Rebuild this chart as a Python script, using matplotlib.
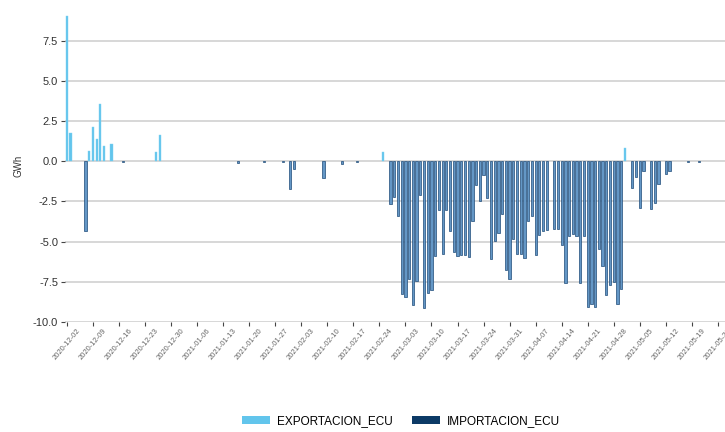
import matplotlib
matplotlib.use('Agg')
import matplotlib.pyplot as plt
from matplotlib.patches import Patch
import numpy as np
import pandas as pd

plt.rcParams['font.family'] = ['Liberation Sans', 'DejaVu Sans']

# datos diarios (GWh)
export_dates = ['2020-12-02', '2020-12-03', '2020-12-08', '2020-12-09', '2020-12-10',
                '2020-12-11', '2020-12-12', '2020-12-14', '2020-12-26', '2020-12-27',
                '2021-02-25', '2021-05-01']
export_gwh = [9.05, 1.73, 0.64, 2.14, 1.39, 3.53, 0.94, 1.08, 0.58, 1.64, 0.58, 0.85]

import_sparse_dates = ['2020-12-07', '2020-12-17', '2021-01-17', '2021-01-24', '2021-01-29',
                       '2021-01-31', '2021-02-01', '2021-02-09', '2021-02-14', '2021-02-18']
import_sparse_gwh = [-4.36, -0.03, -0.10, -0.05, -0.03, -1.70, -0.46, -1.04, -0.15, -0.03]

# tramo continuo desde 2021-02-27
import_run_start = '2021-02-27'
import_run_gwh = [-2.64, -2.22, -3.41, -8.24, -8.46, -7.32, -8.92, -7.48, -2.12, -9.14,
                  -8.21, -8.04, -5.92, -3.05, -5.80, -3.05, -4.36, -5.67, -5.88, -5.82,
                  -5.86, -5.96, -3.72, -1.46, -2.47, -0.83, -2.28, -6.07, -4.97, -4.47,
                  -3.26, -6.75, -7.32, -4.82, -5.80, -5.76, -6.01, -3.72, -3.43, -5.86,
                  -4.57, -4.36, -4.30, 0.0, -4.20, -4.20, -5.20, -7.55, -4.65, -4.55,
                  -4.68, -7.55, -4.68, -9.05, -8.85, -9.08, -5.45, -6.49, -8.30, -7.73,
                  -7.53, -8.88, -7.94, 0.0, 0.0, -1.64, -0.98, -2.91, -0.58, 0.0,
                  -3.00, -2.57, -1.45, 0.0, -0.82, -0.61, 0.0, 0.0, 0.0, 0.0,
                  -0.05, 0.0, 0.0, -0.03]

c_exp = '#62c5ec'
c_imp = '#0c3a66'

fig = plt.figure(figsize=(7.25, 4.32), dpi=100)
ax = fig.add_axes([65 / 725, 1 - 322 / 432, 660 / 725, 312 / 432])

exp_x = pd.to_datetime(export_dates)
imp_x = pd.to_datetime(import_sparse_dates)
run_x = pd.date_range(import_run_start, periods=len(import_run_gwh), freq='D')
run_y = np.array(import_run_gwh)
nz = run_y != 0

ax.bar(imp_x, import_sparse_gwh, width=0.6, color='#6497c6', edgecolor='#1e4b78', linewidth=0.5, zorder=3)
ax.bar(run_x[nz], run_y[nz], width=0.6, color='#6497c6', edgecolor='#1e4b78', linewidth=0.5, zorder=3)
ax.bar(exp_x, export_gwh, width=0.6, color=c_exp, edgecolor='#7fd3f2', linewidth=0.3, zorder=3)

start = pd.Timestamp('2020-12-02')
ax.set_xlim(start - pd.Timedelta(hours=12), start + pd.Timedelta(days=176.9))
ax.set_ylim(-10.0, 9.4)
ax.set_yticks([-10.0, -7.5, -5.0, -2.5, 0.0, 2.5, 5.0, 7.5])
ax.yaxis.set_major_formatter(matplotlib.ticker.FormatStrFormatter('%.1f'))
ax.grid(axis='y', color='#d4d4d4', linewidth=1.3, zorder=0)

ticks = pd.date_range('2020-12-02', '2021-05-26', freq='7D')
ax.set_xticks(ticks)
ax.set_xticklabels([t.strftime('%Y-%m-%d') for t in ticks], rotation=50, ha='center',
                   va='center', rotation_mode='anchor', fontsize=5.5, color='#666666')
ax.tick_params(axis='x', length=3, width=0.8, color='#444444', pad=13)
ax.tick_params(axis='y', length=3, width=0.8, color='#444444', labelsize=8, labelcolor='#333333', pad=2)

for s in ['top', 'right', 'left', 'bottom']:
    ax.spines[s].set_visible(False)

ax.set_ylabel('GWh', fontsize=7, color='#333333', labelpad=7)

handles = [Patch(facecolor=c_exp, label='EXPORTACION_ECU'),
           Patch(facecolor=c_imp, label='IMPORTACION_ECU')]
fig.legend(handles=handles, loc='center', bbox_to_anchor=(401 / 725, 1 - 421 / 432), ncol=2,
           frameon=False, fontsize=8.5, handlelength=2.4, handleheight=0.6, columnspacing=1.6,
           handletextpad=0.6)

fig.savefig('out.png', dpi=100, facecolor='white')
